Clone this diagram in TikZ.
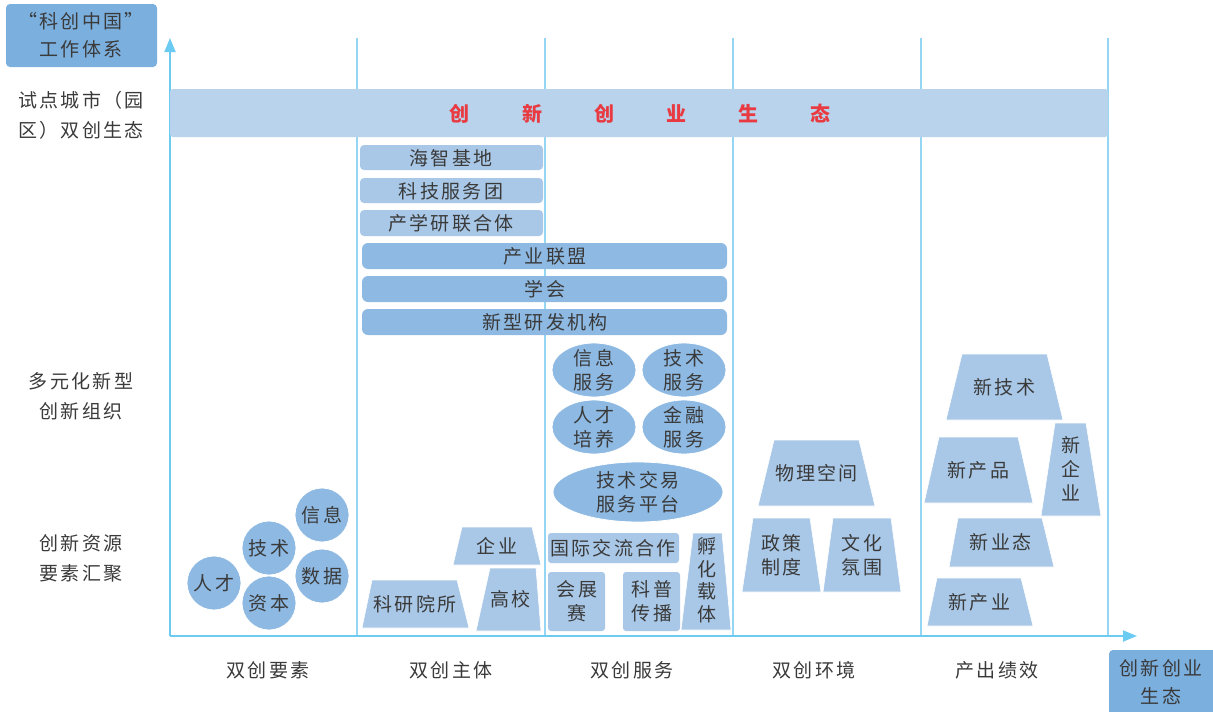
\documentclass[tikz,border=0pt]{standalone}
\usepackage{fontspec}
\setmainfont{Noto Sans CJK SC}
\newfontfamily\cj[LetterSpace=12]{Noto Sans CJK SC}
\usetikzlibrary{arrows.meta}
\definecolor{axisblue}{HTML}{6CCBF2}
\definecolor{gridblue}{HTML}{94D6F3}
\definecolor{lightfill}{HTML}{A9C8E7}
\definecolor{midfill}{HTML}{8DB9E2}
\definecolor{boxfill}{HTML}{7BAFDE}
\definecolor{barfill}{HTML}{B8D3EB}
\definecolor{txt}{HTML}{3A3A3A}
\definecolor{redtxt}{HTML}{E83A40}
\tikzset{
  lbl/.style={text=txt,font=\cj\fontsize{19}{24}\selectfont,align=center,inner sep=0pt},
  sidelbl/.style={text=txt,font=\cj\fontsize{19}{30}\selectfont,align=center,inner sep=0pt},
  redlbl/.style={text=redtxt,font=\fontsize{20}{24}\selectfont\bfseries,inner sep=0pt},
  gridline/.style={draw=gridblue,line width=1.4pt},
  axisline/.style={draw=axisblue,line width=1.8pt,-{Triangle[length=14pt,width=11pt]}},
  lightbar/.style={fill=lightfill,rounded corners=4pt},
  midbar/.style={fill=midfill,rounded corners=6pt},
  oval/.style={fill=midfill,draw=white,line width=0.8pt},
  trapfill/.style={fill=lightfill,draw=white,line width=0.6pt},
  cornerbox/.style={fill=boxfill,rounded corners=4pt}
}
\newcommand{\trap}[8]{%
  \fill[trapfill] (#1,#3) -- (#2,#3) -- (#5,#6) -- (#4,#6) -- cycle;
  \node[lbl] at ({(#1+#2+#4+#5)/4},{(#3+#6)/2}) {#7};%
}
\begin{document}
\begin{tikzpicture}[x=1pt,y=-1pt]
\useasboundingbox (0,0) rectangle (1213,712);

% corner boxes
\fill[cornerbox] (6,4) rectangle (157,67);
\node[sidelbl,font=\cj\fontsize{19}{28}\selectfont] (sys) at (81,35) {“科创中国”\\工作体系};
\fill[cornerbox] (1109,650) rectangle (1220,720);
\node[sidelbl,font=\cj\fontsize{19}{28}\selectfont] (eco) at (1161,682) {创新创业\\生态};

% column grid lines
\foreach \x in {357,545,733,921,1108}
  \draw[gridline] (\x,38) -- (\x,636);

% axes
\coordinate (org) at (170,636);
\coordinate (ytip) at (170,38);
\coordinate (xtip) at (1137,636);
\draw[axisline] (org) -- (ytip);
\draw[axisline] (org) -- (xtip);

% big ecological bar
\fill[fill=barfill,rounded corners=3pt] (170,89) rectangle (1108,137);
\foreach \x/\c/\n in {459/创/r1,532/新/r2,604/创/r3,676/业/r4,748/生/r5,820/态/r6}
  \node[redlbl] (\n) at (\x,114) {\c};

% left side labels
\node[sidelbl] (lab1) at (81,115) {试点城市（园\\区）双创生态};
\node[sidelbl] (lab2) at (81,396) {多元化新型\\创新组织};
\node[sidelbl] (lab3) at (81,558) {创新资源\\要素汇聚};

% bottom labels
\foreach \x/\t/\n in {268/双创要素/b1,451/双创主体/b2,632/双创服务/b3,814/双创环境/b4,997/产出绩效/b5}
  \node[sidelbl] (\n) at (\x,670) {\t};

% bars in subject column
\fill[lightbar] (360,145) rectangle (543,170);
\node[lbl] (hz) at (451,158) {海智基地};
\fill[lightbar] (360,178) rectangle (543,203);
\node[lbl] (kj) at (451,191) {科技服务团};
\fill[lightbar] (360,210) rectangle (543,236);
\node[lbl] (cxy) at (451,223) {产学研联合体};
\fill[midbar] (362,243) rectangle (727,269);
\node[lbl] (cylm) at (545,256) {产业联盟};
\fill[midbar] (362,276) rectangle (727,302);
\node[lbl] (xh) at (545,289) {学会};
\fill[midbar] (362,309) rectangle (727,335);
\node[lbl] (xx) at (545,322) {新型研发机构};

% resource circles
\foreach \x/\y/\t/\n in {214/583/人才/c1,269/548/技术/c2,269/603/资本/c3,322/515/信息/c4,322/576/数据/c5}{
  \fill[oval] (\x,\y) circle (27);
  \node[lbl] (\n) at (\x,\y) {\t};
}

% service ellipses
\foreach \x/\y/\t/\n in {594/370/信息\\服务/e1,684/370/技术\\服务/e2,594/427/人才\\培养/e3,684/427/金融\\服务/e4}{
  \fill[oval] (\x,\y) ellipse [x radius=42,y radius=27];
  \node[lbl] (\n) at (\x,\y) {\t};
}
\fill[oval] (638,492) ellipse [x radius=85,y radius=30];
\node[lbl] (jsjy) at (638,492) {技术交易\\服务平台};

% service boxes
\fill[lightbar,rounded corners=3pt] (548,533) rectangle (679,563);
\node[lbl] (gj) at (613,548) {国际交流合作};
\fill[lightbar,rounded corners=3pt] (548,572) rectangle (605,631);
\node[lbl] (hz2) at (577,601) {会展\\赛};
\fill[lightbar,rounded corners=3pt] (623,572) rectangle (680,631);
\node[lbl] (kp) at (652,601) {科普\\传播};
\fill[trapfill] (693,533) -- (722,533) -- (731,630) -- (681,630) -- cycle;
\node[lbl,font=\fontsize{19}{22.5}\selectfont] (fh) at (707,580) {孵\\化\\载\\体};

% subject trapezoids
\trap{462}{532}{527}{453}{541}{565}{企业}{qy}
\trap{490}{536}{568}{476}{541}{631}{高校}{gx}
\trap{372}{457}{580}{362}{469}{628}{科研院所}{ky}

% environment trapezoids
\trap{774}{859}{440}{758}{875}{506}{物理空间}{wl}
\trap{753}{810}{518}{742}{821}{592}{政策\\制度}{zc}
\trap{833}{891}{518}{823}{901}{592}{文化\\氛围}{wh}

% output trapezoids
\trap{962}{1047}{354}{946}{1063}{420}{新技术}{xjs}
\trap{939}{1018}{437}{924}{1033}{503}{新产品}{xcp}
\fill[trapfill] (1055,423) -- (1086,423) -- (1101,516) -- (1041,516) -- cycle;
\node[lbl,font=\fontsize{19}{24}\selectfont] (xqy) at (1071,469) {新\\企\\业};
\trap{958}{1042}{518}{949}{1054}{567}{新业态}{xyt}
\trap{937}{1021}{578}{927}{1033}{626}{新产业}{xcy}
\end{tikzpicture}
\end{document}
